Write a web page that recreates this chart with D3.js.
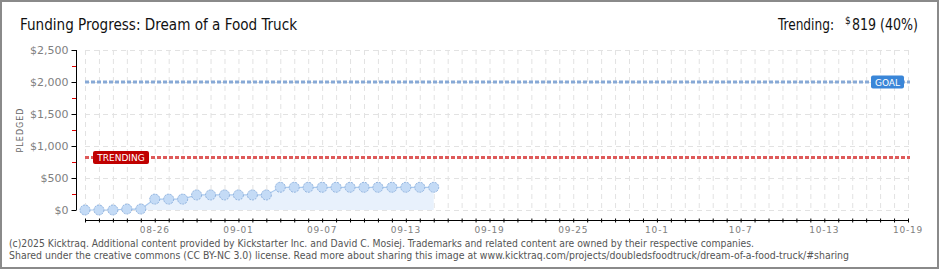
<!DOCTYPE html>
<html>
<head>
<meta charset="utf-8">
<script src="https://cdn.jsdelivr.net/npm/d3@7"></script>
<style>
  body { margin: 0; background: #fff; }
  svg { display: block; }
</style>
</head>
<body>
<div id="chart"></div>
<script>
// pledged totals, one per day starting 2025-08-21
var startDay = "2025-08-21";
var endDay = "2025-10-19";
var pledged = [0, 0, 0, 15, 15, 170, 170, 170, 235, 235, 235, 235, 235, 235,
               355, 355, 355, 355, 355, 355, 355, 355, 355, 355, 355, 355];
var goal = 2000;
var trending = 819;
var yTicks = [0, 500, 1000, 1500, 2000, 2500];
var yMinor = [250, 750, 1250, 1750, 2250];
var xLabelDays = ["2025-08-26", "2025-09-01", "2025-09-07", "2025-09-13", "2025-09-19",
                  "2025-09-25", "2025-10-01", "2025-10-07", "2025-10-13", "2025-10-19"];
var xLabels = ["08-26", "09-01", "09-07", "09-13", "09-19", "09-25", "10-1", "10-7", "10-13", "10-19"];

var W = 940, H = 270;
var parse = d3.timeParse("%Y-%m-%d");
var d0 = parse(startDay), d1 = parse(endDay);
var allDays = d3.timeDay.range(d0, d3.timeDay.offset(d1, 1));
var points = pledged.map(function(v, i) {
    return { date: d3.timeDay.offset(d0, i), value: v };
});

var x = d3.scaleTime().domain([d0, d1]).range([85, 908]);
var y = d3.scaleLinear().domain([0, 2500]).range([210, 50]);

var svg = d3.select("#chart").append("svg")
        .attr("width", W)
        .attr("height", H);

// outer frame
svg.append("rect")
        .attr("x", 1).attr("y", 1)
        .attr("width", W - 3).attr("height", H - 3)
        .attr("fill", "#fff")
        .attr("stroke", "#8a8a8a")
        .attr("stroke-width", 2);

// title
var titleFont = "'DejaVu Sans Condensed', 'Liberation Sans Narrow', sans-serif";
svg.append("text")
        .attr("x", 20).attr("y", 30)
        .attr("font-family", titleFont)
        .attr("font-size", 16)
        .attr("fill", "#111")
        .attr("textLength", 277)
        .attr("lengthAdjust", "spacingAndGlyphs")
        .text("Funding Progress: Dream of a Food Truck");

svg.append("text")
        .attr("x", 778).attr("y", 30)
        .attr("font-family", titleFont)
        .attr("font-size", 16)
        .attr("fill", "#111")
        .attr("textLength", 56)
        .attr("lengthAdjust", "spacingAndGlyphs")
        .text("Trending:");
svg.append("text")
        .attr("x", 845).attr("y", 24)
        .attr("font-family", titleFont)
        .attr("font-size", 10)
        .attr("fill", "#111")
        .text("$");
svg.append("text")
        .attr("x", 852).attr("y", 30)
        .attr("font-family", titleFont)
        .attr("font-size", 16)
        .attr("fill", "#111")
        .attr("textLength", 66)
        .attr("lengthAdjust", "spacingAndGlyphs")
        .text("819 (40%)");

// grid
var grid = svg.append("g").attr("stroke", "#e2e2e2").attr("stroke-dasharray", "5,4");
grid.selectAll("line.v")
        .data(allDays)
        .enter().append("line")
        .attr("x1", function(d) { return x(d) + 0.5; })
        .attr("x2", function(d) { return x(d) + 0.5; })
        .attr("y1", 50).attr("y2", 210);
grid.selectAll("line.h")
        .data(yTicks)
        .enter().append("line")
        .attr("x1", 85).attr("x2", 910)
        .attr("y1", function(d) { return Math.round(y(d)) + 0.5; })
        .attr("y2", function(d) { return Math.round(y(d)) + 0.5; });

// area + line
svg.append("path")
        .datum(points)
        .attr("fill", "#e8f1fc")
        .attr("d", d3.area()
            .x(function(d) { return x(d.date); })
            .y0(y(0))
            .y1(function(d) { return y(d.value); }));

svg.append("path")
        .datum(points)
        .attr("fill", "none")
        .attr("stroke", "#a9c9ee")
        .attr("stroke-width", 1.2)
        .attr("d", d3.line()
            .x(function(d) { return x(d.date); })
            .y(function(d) { return y(d.value); }));

// goal and trending lines
svg.append("line")
        .attr("x1", 85).attr("x2", 910)
        .attr("y1", y(goal)).attr("y2", y(goal))
        .attr("stroke", "#87a9d6")
        .attr("stroke-width", 3)
        .attr("stroke-dasharray", "4,2");
svg.append("line")
        .attr("x1", 85).attr("x2", 910)
        .attr("y1", y(trending)).attr("y2", y(trending))
        .attr("stroke", "#de5a5a")
        .attr("stroke-width", 3)
        .attr("stroke-dasharray", "4,2");

function badge(bx, by, w, fill, label) {
    svg.append("rect")
            .attr("x", bx).attr("y", by)
            .attr("width", w).attr("height", 13)
            .attr("rx", 2)
            .attr("fill", fill);
    svg.append("text")
            .attr("x", bx + w / 2).attr("y", by + 10)
            .attr("text-anchor", "middle")
            .attr("font-family", "'DejaVu Sans', sans-serif")
            .attr("font-size", 9)
            .attr("fill", "#fff")
            .text(label);
}
badge(93, y(trending) - 6.5, 56, "#c00000", "TRENDING");
badge(871, y(goal) - 6.5, 33, "#3a86d8", "GOAL");

// points
svg.selectAll("circle")
        .data(points)
        .enter().append("circle")
        .attr("cx", function(d) { return x(d.date); })
        .attr("cy", function(d) { return y(d.value); })
        .attr("r", 5)
        .attr("fill", "#c4dbf6")
        .attr("stroke", "#8fb2de")
        .attr("stroke-width", 1)
        .attr("stroke-dasharray", "2,1");

// y axis
var yAxis = svg.append("g")
        .attr("transform", "translate(76.5,0)")
        .call(d3.axisLeft(y).tickValues(yTicks).tickSize(5).tickFormat(function(d) { return "$" + d3.format(",")(d); }));
yAxis.select(".domain").attr("stroke", "#000").attr("d", "M0,50V210");
yAxis.selectAll(".tick line").attr("stroke", "#000");
yAxis.selectAll(".tick text")
        .attr("x", -8)
        .attr("font-family", "'DejaVu Sans', sans-serif")
        .attr("font-size", 11)
        .attr("fill", "#808080");
svg.selectAll("line.minor")
        .data(yMinor)
        .enter().append("line")
        .attr("x1", 72).attr("x2", 76)
        .attr("y1", function(d) { return Math.round(y(d)) + 0.5; })
        .attr("y2", function(d) { return Math.round(y(d)) + 0.5; })
        .attr("stroke", "#e00000");

svg.append("text")
        .attr("transform", "translate(23,130) rotate(-90)")
        .attr("text-anchor", "middle")
        .attr("font-family", "'DejaVu Sans', sans-serif")
        .attr("font-size", 8)
        .attr("letter-spacing", 1)
        .attr("fill", "#666")
        .text("PLEDGED");

// x axis
var xAxis = svg.append("g")
        .attr("transform", "translate(0,220.5)")
        .call(d3.axisBottom(x).tickValues(allDays).tickSize(4).tickFormat(""));
xAxis.select(".domain").attr("stroke", "#000").attr("d", "M85,0H908");
xAxis.selectAll(".tick line").attr("stroke", "#000").attr("y1", -2).attr("y2", 2);

svg.selectAll("text.xl")
        .data(xLabels)
        .enter().append("text")
        .attr("x", function(d, i) { return x(parse(xLabelDays[i])); })
        .attr("y", 233)
        .attr("text-anchor", "middle")
        .attr("font-family", "'DejaVu Sans', sans-serif")
        .attr("font-size", 9)
        .attr("letter-spacing", 0.8)
        .attr("fill", "#808080")
        .text(function(d) { return d; });

// footer
var foot = [
    "(c)2025 Kicktraq. Additional content provided by Kickstarter Inc. and David C. Mosiej. Trademarks and related content are owned by their respective companies.",
    "Shared under the creative commons (CC BY-NC 3.0) license. Read more about sharing this image at www.kicktraq.com/projects/doubledsfoodtruck/dream-of-a-food-truck/#sharing"
];
var footLen = [745, 840];
svg.selectAll("text.foot")
        .data(foot)
        .enter().append("text")
        .attr("x", 9)
        .attr("y", function(d, i) { return 247 + i * 12; })
        .attr("font-family", "'DejaVu Sans', Verdana, sans-serif")
        .attr("font-size", 10)
        .attr("fill", "#555")
        .attr("textLength", function(d, i) { return footLen[i]; })
        .attr("lengthAdjust", "spacingAndGlyphs")
        .text(function(d) { return d; });
</script>
</body>
</html>
